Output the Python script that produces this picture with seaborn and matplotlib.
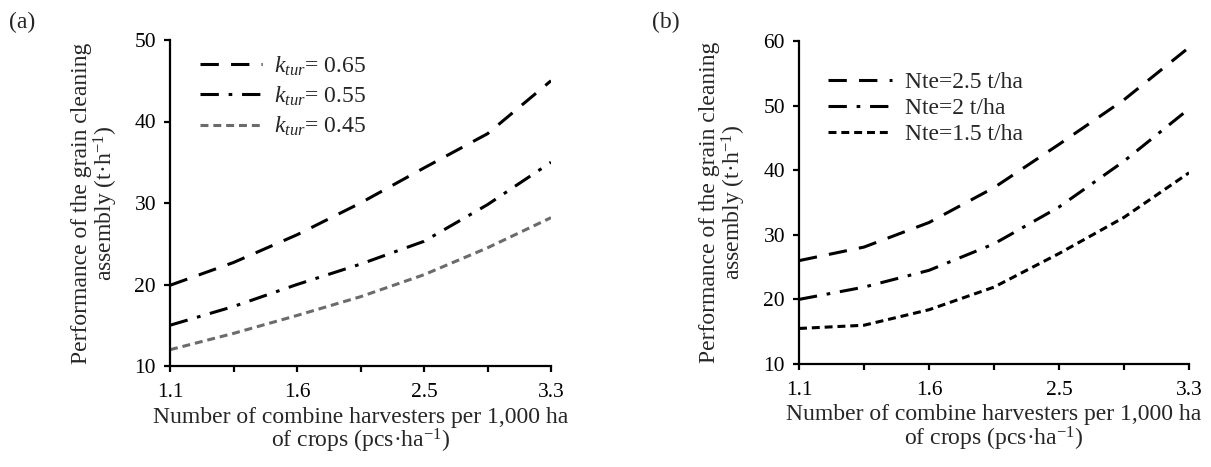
import matplotlib
matplotlib.use("Agg")
import matplotlib.pyplot as plt
import seaborn as sns
import pandas as pd

# category positions on the x axis (every other one is labelled)
x_labels = ["1.1", "", "1.6", "", "2.5", "", "3.3"]

# panel (a): k_tur series
ktur_065 = [19.9, 22.7, 26.1, 30.0, 34.3, 38.5, 45.0]
ktur_055 = [15.0, 17.3, 20.0, 22.5, 25.3, 29.8, 35.0]
ktur_045 = [12.0, 14.0, 16.2, 18.5, 21.2, 24.5, 28.2]

# panel (b): Nte series
nte_25 = [26.0, 28.1, 31.9, 37.3, 44.0, 50.9, 59.0]
nte_2 = [20.0, 21.9, 24.5, 28.6, 34.3, 41.4, 49.5]
nte_15 = [15.5, 16.0, 18.4, 21.9, 27.1, 32.7, 39.6]

sns.set_style("ticks")
plt.rcParams['font.family'] = ['Liberation Serif', 'DejaVu Serif']
plt.rcParams['mathtext.fontset'] = 'custom'
plt.rcParams['mathtext.rm'] = 'Liberation Serif'
plt.rcParams['mathtext.it'] = 'Liberation Serif:italic'

FS = 17
FS_TICK = 15.5
LW = 2.2
long_dash = (6, 4)
dash_dot = (6, 3.2, 1.2, 3.2)
short_dash = (2.6, 1.6)

fig = plt.figure(figsize=(12.11, 4.67), dpi=100)
ax_a = fig.add_axes([170 / 1211, 1 - 366 / 467, 381 / 1211, 326 / 467])
ax_b = fig.add_axes([799 / 1211, 1 - 364 / 467, 390 / 1211, 323 / 467])

xpos = list(range(len(x_labels)))


def draw(ax, series, labels, styles, colors):
    for vals, lab, dsh, col in zip(series, labels, styles, colors):
        df = pd.DataFrame({'x': xpos, 'y': vals})
        sns.lineplot(ax=ax, data=df, x='x', y='y', color=col, lw=LW,
                     dashes=False, label=lab, linestyle=(0, dsh))


draw(ax_a, [ktur_065, ktur_055, ktur_045],
     ['$k_{tur}$= 0.65', '$k_{tur}$= 0.55', '$k_{tur}$= 0.45'],
     [long_dash, dash_dot, short_dash], ['black', 'black', '#6b6b6b'])
draw(ax_b, [nte_25, nte_2, nte_15],
     ['Nte=2.5 t/ha', 'Nte=2 t/ha', 'Nte=1.5 t/ha'],
     [long_dash, dash_dot, short_dash], ['black', 'black', 'black'])

for ax, top in [(ax_a, 50), (ax_b, 60)]:
    ax.set_xlim(0, 6)
    ax.set_ylim(10, top)
    ax.set_yticks(range(10, top + 1, 10))
    ax.set_xticks(xpos)
    ax.set_xticklabels(x_labels)
    for s in ['top', 'right']:
        ax.spines[s].set_visible(False)
    for s in ['left', 'bottom']:
        ax.spines[s].set_linewidth(1.6)
        ax.spines[s].set_color('black')
    ax.tick_params(axis='both', direction='out', length=4, width=1.6,
                   labelsize=FS_TICK, colors='black')
    ax.tick_params(axis='x', pad=8)
    ax.tick_params(axis='y', pad=6)
    ax.set_ylabel('Performance of the grain cleaning\nassembly (t·h$^{-1}$)',
                  fontsize=FS, linespacing=1.0)
    ax.set_xlabel('Number of combine harvesters per 1,000 ha\nof crops (pcs·ha$^{-1}$)',
                  fontsize=FS, linespacing=0.95)
    ax.yaxis.set_label_coords(-0.13, 0.5)
    ax.xaxis.set_label_coords(0.5, -0.125)
    ax.xaxis.label.set_va('top')

leg_a = ax_a.legend(loc='upper left', bbox_to_anchor=(0.055, 0.985), frameon=False,
                    fontsize=FS, handlelength=2.6, handletextpad=0.5,
                    labelspacing=0.3, borderaxespad=0)
leg_b = ax_b.legend(loc='upper left', bbox_to_anchor=(0.05, 0.935), frameon=False,
                    fontsize=FS, handlelength=2.7, handletextpad=0.55,
                    labelspacing=0.2, borderaxespad=0)

fig.text(22 / 1211, 1 - 22 / 467, '(a)', fontsize=FS, ha='center', va='center')
fig.text(666 / 1211, 1 - 22 / 467, '(b)', fontsize=FS, ha='center', va='center')

plt.savefig('out.png', dpi=100)
